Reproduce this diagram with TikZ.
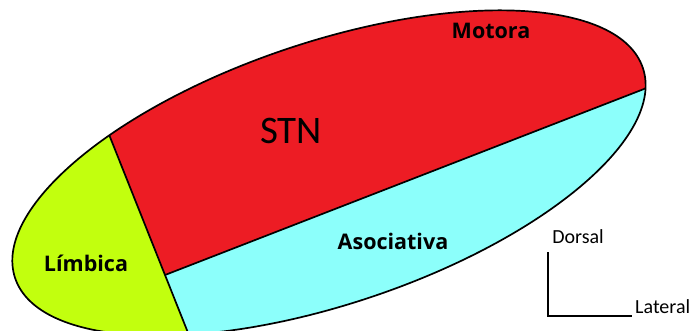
\documentclass[tikz,border=0pt]{standalone}
\usepackage{fontspec}
\setmainfont{Open Sans}
\newfontfamily\calfont{Carlito}
\usepackage{xcolor}
\definecolor{motorRed}{HTML}{ED1C24}
\definecolor{assocCyan}{HTML}{8CFFFB}
\definecolor{limbGreen}{HTML}{C2FF0E}

\begin{document}
\begin{tikzpicture}[
    x=1pt, y=1pt,
    region/.style={
        font=\fontsize{21.5}{21.5}\selectfont\bfseries,
        anchor=base,
        inner sep=0pt
    },
    border/.style={
        draw=black,
        line width=1.7pt,
        line join=round
    },
    axis/.style={
        draw=black,
        line width=1.9pt
    },
    axislabel/.style={
        font=\calfont\fontsize{20}{20}\selectfont,
        inner sep=0pt
    }
]
    \useasboundingbox (0,0) rectangle (692,330);
    \clip (0,0) rectangle (692,330);

    % Nucleus outline and subdivisions
    \coordinate (center) at (329,157);
    \coordinate (junction) at (165,55);
    \fill [assocCyan, rotate around={18.5:(center)}] (center) ellipse [x radius=331, y radius=131];
    \begin{scope}
        \clip [rotate around={18.5:(center)}] (center) ellipse [x radius=331, y radius=131];
        \fill [motorRed] (27.5,400) -- (junction) -- (739.8,278.2) -- (760,400) -- cycle;
        \fill [limbGreen] (27.5,400) -- (junction) -- (220,-83) -- (-50,-83) -- (-50,400) -- cycle;
        \draw [border] (27.5,400) -- (junction) -- (739.8,278.2);
        \draw [border] (junction) -- (220,-83);
    \end{scope}
    \draw [border, rotate around={18.5:(center)}] (center) ellipse [x radius=331, y radius=131];

    % Labels
    \node [region] (motora) at (491,291) {Motora};
    \node [anchor=base, inner sep=0pt, font=\calfont\fontsize{39}{39}\selectfont] (stn) at (291,187) {STN};
    \node [region] (asociativa) at (393,81) {Asociativa};
    \node [region] (limbica) at (86,59) {Límbica};

    % Orientation
    \coordinate (dorsalEnd) at (548,78);
    \coordinate (origin) at (548,14);
    \coordinate (lateralEnd) at (632,14);
    \draw [axis] (dorsalEnd) -- (origin) -- (lateralEnd);
    \node [axislabel, anchor=base] (dorsal) at (578,87) {Dorsal};
    \node [axislabel, anchor=base west] (lateral) at (635,17) {Lateral};

\end{tikzpicture}
\end{document}
